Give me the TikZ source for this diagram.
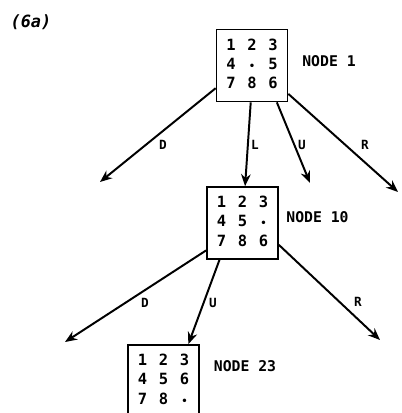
\documentclass[tikz,border=0pt]{standalone}
\usepackage{fontspec}
\setmainfont{DejaVu Sans Mono}
\usetikzlibrary{arrows.meta}
\newcommand{\gap}{{\scriptsize\textbullet}}
\newcommand{\tiles}[9]{\renewcommand{\arraystretch}{1.05}%
  \begin{tabular}{@{}c@{\hspace{8.3pt}}c@{\hspace{8.3pt}}c@{}}#1&#2&#3\\#4&#5&#6\\#7&#8&#9\end{tabular}}

\begin{document}
\begin{tikzpicture}[x=0.25mm,y=-0.25mm,line width=1.4pt,>={Stealth[length=3mm,width=2.4mm]},
  board/.style={draw,line width=1.2pt,minimum width=17.75mm,minimum height=18mm,inner sep=0pt,font=\fontsize{11}{13}\selectfont\bfseries},
  tag/.style={font=\fontsize{10.5}{12}\selectfont\bfseries},
  move/.style={font=\small\bfseries}]
  \useasboundingbox (0,0) rectangle (401,413);
  \node[font=\large\bfseries\itshape] (fig) at (31,22) {(6a)};
  % search tree
  \node[board] (n1) at (252,65.5) {\tiles{1}{2}{3}{4}{\gap}{5}{7}{8}{6}};
  \node[board] (n10) at (242.5,223) {\tiles{1}{2}{3}{4}{5}{\gap}{7}{8}{6}};
  \node[board] (n23) at (163.5,381) {\tiles{1}{2}{3}{4}{5}{6}{7}{8}{\gap}};
  \node[tag] (t1) at (329,61) {NODE 1};
  \node[tag] (t10) at (317.5,217) {NODE 10};
  \node[tag] (t23) at (245,366) {NODE 23};
  \coordinate (d1) at (100,182);
  \coordinate (u1) at (310,183);
  \coordinate (r1) at (398,192);
  \coordinate (d10) at (65,342);
  \coordinate (r10) at (380,340);
  \draw[->] (n1.212) -- (d1);
  \draw[->] (n1.268) -- (n10.86);
  \draw[->] (n1.304) -- (u1);
  \draw[->] (n1.322) -- (r1);
  \draw[->] (n10.217) -- (d10);
  \draw[->] (n10.238) -- (n23.56);
  \draw[->] (n10.329) -- (r10);
  \node[move] (m1d) at (163,145) {D};
  \node[move] (m1l) at (255,145) {L};
  \node[move] (m1u) at (302,145) {U};
  \node[move] (m1r) at (365,145) {R};
  \node[move] (m10d) at (145,303) {D};
  \node[move] (m10u) at (213,303) {U};
  \node[move] (m10r) at (358,302) {R};
\end{tikzpicture}
\end{document}
